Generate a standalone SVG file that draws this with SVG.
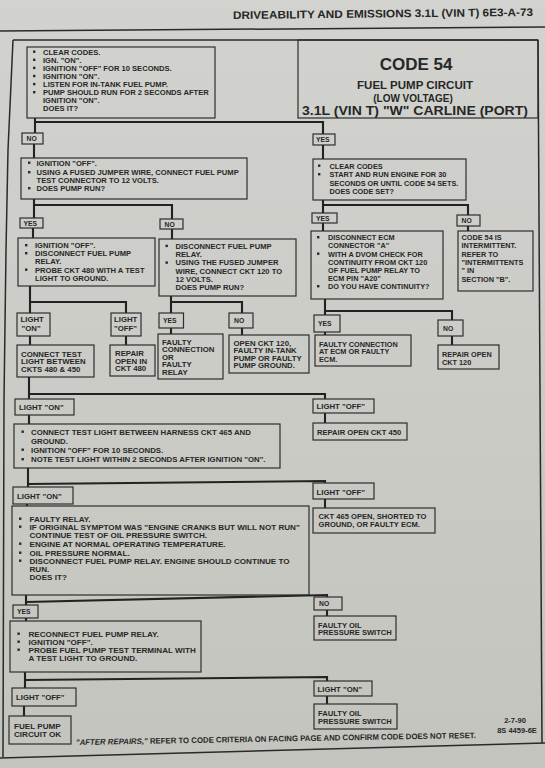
<svg xmlns="http://www.w3.org/2000/svg" width="545" height="768" viewBox="0 0 545 768">
<defs>
<linearGradient id="paper" x1="0" y1="0" x2="0" y2="1">
<stop offset="0" stop-color="#d2d3ce"/>
<stop offset="1" stop-color="#c3c4be"/>
</linearGradient>
<rect id="bu" width="2.4" height="2.4" fill="#2a2a2a"/>
<style>
.b{fill:none;stroke:#2e2e2e;stroke-width:1.2}
.c{fill:none;stroke:#222;stroke-width:2.1}
.f{fill:none;stroke:#2a2a2a;stroke-width:1.5}
text{font-family:"Liberation Sans",Arial,sans-serif;font-weight:bold;fill:#272727}
.t{font-size:7.6px}
.t2{font-size:7.8px}
.t3{font-size:8.1px}
.s{font-size:7.3px}
.s2{font-size:7.6px}
.l{font-size:6.8px}
.lt{font-size:7.8px}
</style>
</defs>
<rect x="0" y="0" width="545" height="768" fill="url(#paper)"/>

<g id="header">
<text x="233" y="19" font-size="11" textLength="300" lengthAdjust="spacingAndGlyphs" transform="rotate(-0.6 233 19)">DRIVEABILITY AND EMISSIONS 3.1L (VIN T) 6E3-A-73</text>
<path class="f" d="M0,31 L545,27" stroke-width="1"/>
</g>

<g id="frame">
<path class="f" d="M13,40 L538,40"/>
<path class="f" d="M13,40 L8,150 L6,250 L4,400 L3,757"/>
<path class="f" d="M538,40 L542,743"/>
<path class="f" d="M0,758 L545,743"/>
</g>

<g id="connectors">
<path class="c" d="M35,118 V133 M35,122 H323 V134"/>
<path class="c" d="M34,144 V158 M323,145 V159"/>
<path class="c" d="M34,199 V218 M34,205 H172 V219"/>
<path class="c" d="M323,200 V213 M323,205 H468 V215"/>
<path class="c" d="M33,228 V238 M172,229 V239 M323,223 V231 M468,226 V231"/>
<path class="c" d="M30,286 V313 M30,302 H126 V313 M30,336 V345 M126,336 V345"/>
<path class="c" d="M171,296 V313 M171,302 H242 V313 M171,328 V334 M242,328 V335"/>
<path class="c" d="M325,299 V315 M325,311 H452 V320 M325,332 V335 M452,336 V345"/>
<path class="c" d="M29,377 V399 M29,394 H325 V399 M29,415 V424 M325,413 V423"/>
<path class="c" d="M28,468 V487 M28,484 L325,481 V483 M27,504 V506 M325,499 V508"/>
<path class="c" d="M26,595 V605 M26,602 L327,595 V597 M26,618 V621 M327,610 V616"/>
<path class="c" d="M25,672 V688 M25,680 L327,677 V681 M24,706 V716 M327,696 V704"/>
</g>

<g id="start">
<rect class="b" x="27" y="47" width="188" height="71"/>
<use href="#bu" x="33" y="50.5"/><use href="#bu" x="33" y="58.6"/><use href="#bu" x="33" y="66.7"/><use href="#bu" x="33" y="74.8"/><use href="#bu" x="33" y="82.9"/><use href="#bu" x="33" y="91"/>
<text class="t" x="43" y="54.5">CLEAR CODES.</text>
<text class="t" x="43" y="62.6">IGN. "ON".</text>
<text class="t" x="43" y="70.7">IGNITION "OFF" FOR 10 SECONDS.</text>
<text class="t" x="43" y="78.8">IGNITION "ON".</text>
<text class="t" x="43" y="86.9">LISTEN FOR IN-TANK FUEL PUMP.</text>
<text class="t" x="43" y="95">PUMP SHOULD RUN FOR 2 SECONDS AFTER</text>
<text class="t" x="43" y="103.1">IGNITION "ON".</text>
<text class="t" x="43" y="111.2">DOES IT?</text>
</g>

<g id="title">
<rect class="b" x="298" y="40" width="240" height="78"/>
<text x="416" y="70" font-size="17" text-anchor="middle">CODE 54</text>
<text x="415" y="89" font-size="11.5" text-anchor="middle">FUEL PUMP CIRCUIT</text>
<text x="413" y="101.5" font-size="10" text-anchor="middle">(LOW VOLTAGE)</text>
<text x="302" y="115" font-size="12.5" textLength="226" lengthAdjust="spacingAndGlyphs">3.1L  (VIN T)  "W"  CARLINE  (PORT)</text>
</g>

<g id="no1"><rect class="b" x="22" y="133" width="21" height="11"/><text class="l" x="26.5" y="141.3">NO</text></g>
<g id="yes1"><rect class="b" x="313" y="134" width="22" height="11"/><text class="l" x="316" y="142.3">YES</text></g>

<g id="jumper">
<rect class="b" x="21" y="158" width="226" height="41"/>
<use href="#bu" x="28" y="161.5"/><use href="#bu" x="28" y="171"/><use href="#bu" x="28" y="187"/>
<text class="t" x="36.5" y="165.5">IGNITION "OFF".</text>
<text class="t" x="36.5" y="175">USING A FUSED JUMPER WIRE, CONNECT FUEL PUMP</text>
<text class="t" x="36.5" y="183">TEST CONNECTOR TO 12 VOLTS.</text>
<text class="t" x="36.5" y="191">DOES PUMP RUN?</text>
</g>

<g id="clear">
<rect class="b" x="313" y="159" width="153" height="41"/>
<use href="#bu" x="318" y="164.5"/><use href="#bu" x="318" y="173"/>
<text class="s" x="329.5" y="168.5">CLEAR CODES</text>
<text class="s" x="329.5" y="177">START AND RUN ENGINE FOR 30</text>
<text class="s" x="329.5" y="185.5">SECONDS OR UNTIL CODE 54 SETS.</text>
<text class="s" x="329.5" y="193.5">DOES CODE SET?</text>
</g>

<g id="yes2"><rect class="b" x="20" y="218" width="23" height="10"/><text class="l" x="23.5" y="225.8">YES</text></g>
<g id="no2"><rect class="b" x="160" y="219" width="23" height="10"/><text class="l" x="164.5" y="226.8">NO</text></g>

<g id="probe480">
<rect class="b" x="18" y="238" width="137" height="48"/>
<use href="#bu" x="25" y="244"/><use href="#bu" x="25" y="252"/><use href="#bu" x="25" y="268.5"/>
<text class="t" x="35" y="248">IGNITION "OFF".</text>
<text class="t" x="35" y="256">DISCONNECT FUEL PUMP</text>
<text class="t" x="35" y="264">RELAY.</text>
<text class="t" x="35" y="272.5">PROBE CKT 480 WITH A TEST</text>
<text class="t" x="35" y="280.5">LIGHT TO GROUND.</text>
</g>

<g id="ckt120">
<rect class="b" x="159" y="239" width="137" height="57"/>
<use href="#bu" x="165.5" y="244.7"/><use href="#bu" x="165.5" y="261.4"/>
<text class="t" x="175.5" y="248.7">DISCONNECT FUEL PUMP</text>
<text class="t" x="175.5" y="256.5">RELAY.</text>
<text class="t" x="175.5" y="265.4">USING THE FUSED JUMPER</text>
<text class="t" x="175.5" y="273.7">WIRE, CONNECT CKT 120 TO</text>
<text class="t" x="175.5" y="281.7">12 VOLTS.</text>
<text class="t" x="175.5" y="289.5">DOES PUMP RUN?</text>
</g>

<g id="yes3"><rect class="b" x="312" y="213" width="25" height="10"/><text class="l" x="316" y="220.8">YES</text></g>
<g id="no3"><rect class="b" x="457" y="215" width="23" height="11"/><text class="l" x="461.5" y="223.3">NO</text></g>

<g id="dvom">
<rect class="b" x="311" y="231" width="132" height="68"/>
<use href="#bu" x="317" y="236"/><use href="#bu" x="317" y="252.5"/><use href="#bu" x="317" y="285"/>
<text class="s" x="328" y="240">DISCONNECT ECM</text>
<text class="s" x="328" y="248">CONNECTOR "A"</text>
<text class="s" x="328" y="256.5">WITH A DVOM CHECK FOR</text>
<text class="s" x="328" y="264.5">CONTINUITY FROM CKT 120</text>
<text class="s" x="328" y="272.5">OF FUEL PUMP RELAY TO</text>
<text class="s" x="328" y="280.5">ECM PIN "A20"</text>
<text class="s" x="328" y="289">DO YOU HAVE CONTINUITY?</text>
</g>

<g id="intermittent">
<rect class="b" x="458" y="231" width="75" height="60"/>
<text class="s" x="461.5" y="240">CODE 54 IS</text>
<text class="s" x="461.5" y="248.3">INTERMITTENT.</text>
<text class="s" x="461.5" y="256.6">REFER TO</text>
<text class="s" x="461.5" y="264.9">"INTERMITTENTS</text>
<text class="s" x="461.5" y="273.2">" IN</text>
<text class="s" x="461.5" y="281.5">SECTION "B".</text>
</g>

<g id="lon1"><rect class="b" x="17" y="313" width="33" height="23"/><text class="lt" x="20.5" y="322">LIGHT</text><text class="lt" x="21.5" y="330.5">"ON"</text></g>
<g id="loff1"><rect class="b" x="111" y="313" width="30" height="23"/><text class="lt" x="114" y="322">LIGHT</text><text class="lt" x="114" y="330.5">"OFF"</text></g>

<g id="connect480">
<rect class="b" x="17" y="345" width="77" height="32"/>
<text class="t2" x="21" y="356.5">CONNECT TEST</text>
<text class="t2" x="21" y="364">LIGHT BETWEEN</text>
<text class="t2" x="21" y="371.5">CKTS 480 &amp; 450</text>
</g>

<g id="repair480">
<rect class="b" x="110" y="345" width="45" height="31"/>
<text class="t2" x="115" y="355.5">REPAIR</text>
<text class="t2" x="115" y="363.5">OPEN IN</text>
<text class="t2" x="115" y="371">CKT 480</text>
</g>

<g id="yes4"><rect class="b" x="159" y="313" width="24.5" height="15"/><text class="l" x="163" y="323">YES</text></g>
<g id="no4"><rect class="b" x="229" y="313" width="24" height="15"/><text class="l" x="234" y="323">NO</text></g>

<g id="faultyrelay">
<rect class="b" x="158" y="334" width="65" height="45"/>
<text class="t2" x="162" y="344.5">FAULTY</text>
<text class="t2" x="162" y="352">CONNECTION</text>
<text class="t2" x="162" y="359.5">OR</text>
<text class="t2" x="162" y="367">FAULTY</text>
<text class="t2" x="162" y="374.5">RELAY</text>
</g>

<g id="open120">
<rect class="b" x="229" y="335" width="80" height="38"/>
<text class="t2" x="233.5" y="345.5">OPEN CKT 120,</text>
<text class="t2" x="233.5" y="353">FAULTY IN-TANK</text>
<text class="t2" x="233.5" y="360.5">PUMP OR FAULTY</text>
<text class="t2" x="233.5" y="368">PUMP GROUND.</text>
</g>

<g id="yes5"><rect class="b" x="314" y="315" width="26" height="17"/><text class="l" x="318" y="326">YES</text></g>
<g id="no5"><rect class="b" x="438" y="320" width="25" height="16"/><text class="l" x="443" y="330.8">NO</text></g>

<g id="faultyecm">
<rect class="b" x="315" y="335" width="96" height="31"/>
<text class="s" x="319" y="346.5">FAULTY CONNECTION</text>
<text class="s" x="319" y="354">AT ECM OR FAULTY</text>
<text class="s" x="319" y="361.5">ECM.</text>
</g>

<g id="repair120">
<rect class="b" x="438" y="345" width="61" height="24"/>
<text class="s" x="442" y="357">REPAIR OPEN</text>
<text class="s" x="442" y="364.5">CKT 120</text>
</g>

<g id="lon2"><rect class="b" x="15" y="399" width="59" height="16"/><text class="lt" x="19" y="410">LIGHT "ON"</text></g>
<g id="loff2"><rect class="b" x="313" y="399" width="61" height="14"/><text class="lt" x="316.5" y="409">LIGHT "OFF"</text></g>

<g id="repair450">
<rect class="b" x="313" y="423" width="94" height="17"/>
<text class="s2" x="317" y="434.5">REPAIR OPEN CKT 450</text>
</g>

<g id="test465">
<rect class="b" x="14" y="424" width="266" height="44"/>
<use href="#bu" x="21.5" y="430.5"/><use href="#bu" x="21.5" y="448.5"/><use href="#bu" x="21.5" y="458"/>
<text class="t2" x="31" y="434.5">CONNECT TEST LIGHT BETWEEN HARNESS CKT 465 AND</text>
<text class="t2" x="31" y="444">GROUND.</text>
<text class="t2" x="31" y="452.5">IGNITION "OFF" FOR 10 SECONDS.</text>
<text class="t2" x="31" y="462">NOTE TEST LIGHT WITHIN 2 SECONDS AFTER IGNITION "ON".</text>
</g>

<g id="lon3"><rect class="b" x="13" y="487" width="60" height="17"/><text class="lt" x="17" y="498.5">LIGHT "ON"</text></g>
<g id="loff3"><rect class="b" x="313" y="483" width="61" height="16"/><text class="lt" x="316.5" y="494.5">LIGHT "OFF"</text></g>

<g id="oilswitch">
<rect class="b" x="12" y="506" width="297" height="89"/>
<use href="#bu" x="19" y="517.5"/><use href="#bu" x="19" y="525.5"/><use href="#bu" x="19" y="542.5"/><use href="#bu" x="19" y="551.5"/><use href="#bu" x="19" y="559.5"/>
<text class="t3" x="29.5" y="521.5">FAULTY RELAY.</text>
<text class="t3" x="29.5" y="529.5">IF ORIGINAL SYMPTOM WAS "ENGINE CRANKS BUT WILL NOT RUN"</text>
<text class="t3" x="29.5" y="538">CONTINUE TEST OF OIL PRESSURE SWITCH.</text>
<text class="t3" x="29.5" y="546.5">ENGINE AT NORMAL OPERATING TEMPERATURE.</text>
<text class="t3" x="29.5" y="555.5">OIL PRESSURE NORMAL.</text>
<text class="t3" x="29.5" y="563.5">DISCONNECT FUEL PUMP RELAY.  ENGINE SHOULD CONTINUE TO</text>
<text class="t3" x="29.5" y="571.5">RUN.</text>
<text class="t3" x="29.5" y="579.5">DOES IT?</text>
</g>

<g id="ckt465">
<rect class="b" x="313" y="508" width="122" height="25"/>
<text class="s2" x="318.5" y="518.5">CKT 465 OPEN, SHORTED TO</text>
<text class="s2" x="318.5" y="526.5">GROUND, OR FAULTY ECM.</text>
</g>

<g id="yes6"><rect class="b" x="13" y="605" width="25" height="13"/><text class="l" x="17" y="614.3">YES</text></g>
<g id="no6"><rect class="b" x="314" y="597" width="28" height="13"/><text class="l" x="319" y="606.3">NO</text></g>

<g id="faultyoil1">
<rect class="b" x="314" y="616" width="82" height="24"/>
<text class="s2" x="318" y="627.5">FAULTY OIL</text>
<text class="s2" x="318" y="635">PRESSURE SWITCH</text>
</g>

<g id="reconnect">
<rect class="b" x="10" y="621" width="191" height="51"/>
<use href="#bu" x="17.4" y="632.5"/><use href="#bu" x="17.4" y="640.5"/><use href="#bu" x="17.4" y="648.5"/>
<text class="t3" x="28.5" y="636.5">RECONNECT FUEL PUMP RELAY.</text>
<text class="t3" x="28.5" y="644.5">IGNITION "OFF".</text>
<text class="t3" x="28.5" y="652.5">PROBE FUEL PUMP TEST TERMINAL WITH</text>
<text class="t3" x="28.5" y="660.5">A TEST LIGHT TO GROUND.</text>
</g>

<g id="lon4"><rect class="b" x="314" y="681" width="58" height="15"/><text class="lt" x="317.5" y="691.8">LIGHT "ON"</text></g>
<g id="loff4"><rect class="b" x="12" y="688" width="64" height="18"/><text class="lt" x="16" y="700">LIGHT "OFF"</text></g>

<g id="pumpok">
<rect class="b" x="9" y="716" width="62" height="28"/>
<text class="t3" x="14" y="728.5">FUEL PUMP</text>
<text class="t3" x="14" y="736.5">CIRCUIT OK</text>
</g>

<g id="faultyoil2">
<rect class="b" x="314" y="704" width="83" height="25"/>
<text class="s2" x="318" y="716">FAULTY OIL</text>
<text class="s2" x="318" y="723.5">PRESSURE SWITCH</text>
</g>

<g id="footer">
<text x="515" y="723" font-size="7.5" text-anchor="middle">2-7-90</text>
<text x="517" y="733" font-size="7.5" text-anchor="middle">8S 4459-6E</text>
<text x="76" y="745" font-size="8" textLength="400" lengthAdjust="spacingAndGlyphs" transform="rotate(-1 76 745)"><tspan font-style="italic">"AFTER REPAIRS,"</tspan> REFER TO CODE CRITERIA ON FACING PAGE AND CONFIRM CODE DOES NOT RESET.</text>
</g>
</svg>
